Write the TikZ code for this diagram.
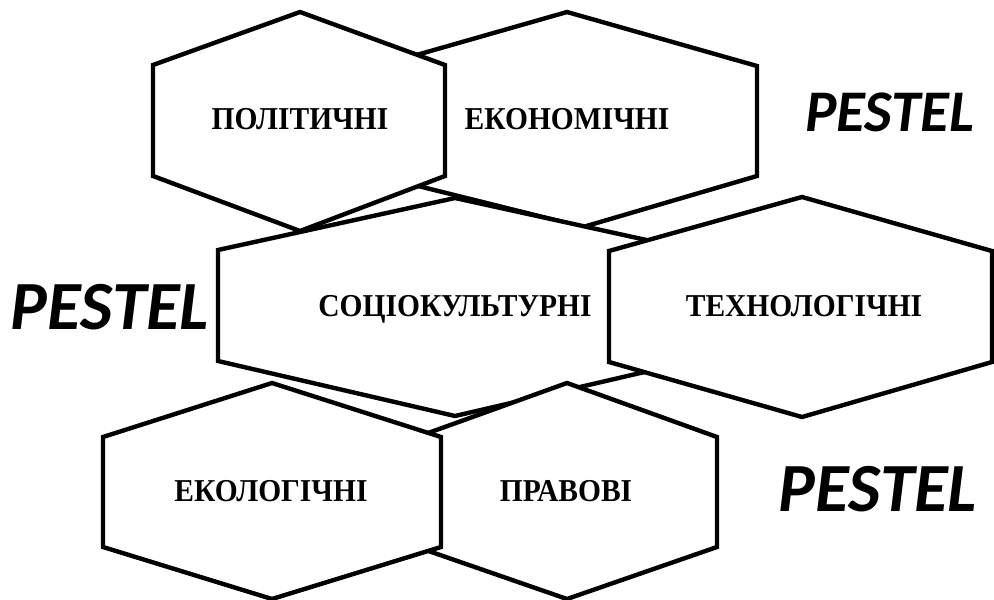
\documentclass[tikz,border=0pt]{standalone}
\usepackage{fontspec}
\setmainfont{Liberation Serif}
\newfontfamily\pestfont{Carlito}
\newcommand{\hexlabel}[1]{\scalebox{1.0}[1.08]{#1}}
\tikzset{
  hexshape/.style={draw=black, fill=white, line width=4.4pt, line join=miter},
  lbl/.style={anchor=base, inner sep=0pt, font=\fontsize{29.5}{31}\selectfont\bfseries},
  pestlbl/.style={anchor=base, inner sep=0pt, font=\pestfont\bfseries\itshape}
}
\begin{document}
\begin{tikzpicture}[x=1pt,y=-1pt]
\useasboundingbox (0,0) rectangle (994,600);
% economic (behind political)
\draw[hexshape] (567,12) -- (757,66) -- (757,176) -- (583,227) -- (378,176) -- (378,66) -- cycle;
% political
\draw[hexshape] (300,12) -- (445,65) -- (445,176) -- (300,231) -- (153,176) -- (153,65) -- cycle;
% sociocultural
\draw[hexshape] (455,198) -- (692,250) -- (692,361) -- (455,416) -- (218,361) -- (218,250) -- cycle;
% technological
\draw[hexshape] (802,197) -- (992,251) -- (992,362) -- (802,417) -- (609,362) -- (609,251) -- cycle;
% legal
\draw[hexshape] (567,383) -- (717,437) -- (717,547) -- (567,599) -- (417,547) -- (417,437) -- cycle;
% ecological
\draw[hexshape] (272,383) -- (441,437) -- (441,547) -- (272,599) -- (103,547) -- (103,437) -- cycle;

\node[lbl] (pol) at (300,129) {\hexlabel{ПОЛІТИЧНІ}};
\node[lbl] (eco) at (567,129) {\hexlabel{ЕКОНОМІЧНІ}};
\node[lbl] (soc) at (455,316) {\hexlabel{СОЦІОКУЛЬТУРНІ}};
\node[lbl] (tech) at (804,316) {\hexlabel{ТЕХНОЛОГІЧНІ}};
\node[lbl] (ecol) at (271,501) {\hexlabel{ЕКОЛОГІЧНІ}};
\node[lbl] (prav) at (566,501) {\hexlabel{ПРАВОВІ}};

\node[pestlbl, font=\pestfont\bfseries\itshape\fontsize{59}{62}\selectfont] (p1) at (890,131) {PESTEL};
\node[pestlbl, font=\pestfont\bfseries\itshape\fontsize{69}{72}\selectfont] (p2) at (110,329) {PESTEL};
\node[pestlbl, font=\pestfont\bfseries\itshape\fontsize{69}{72}\selectfont] (p3) at (878,511) {PESTEL};
\end{tikzpicture}
\end{document}
